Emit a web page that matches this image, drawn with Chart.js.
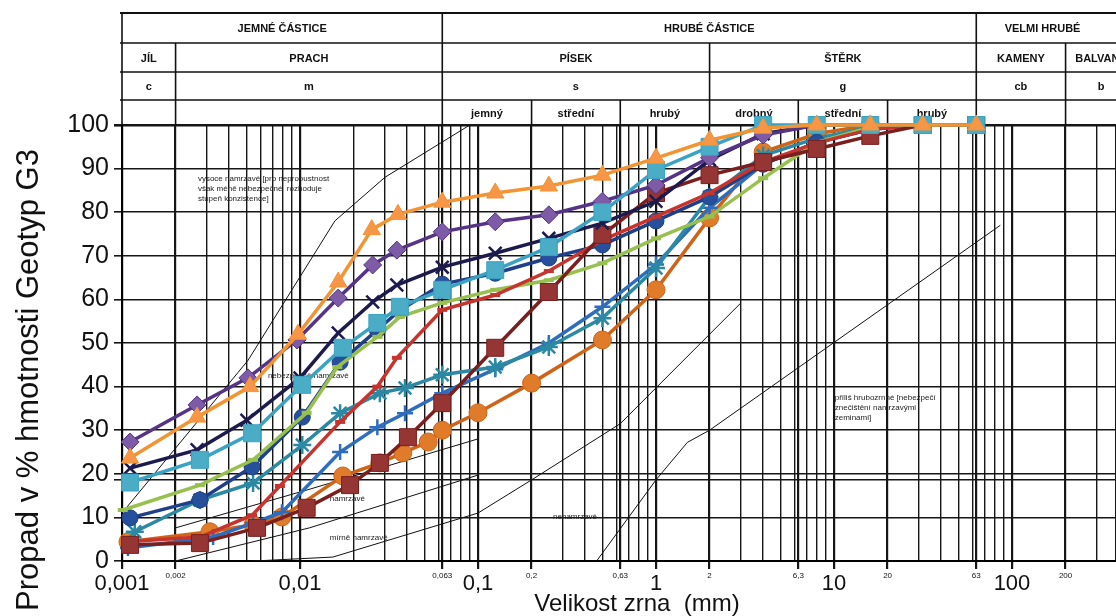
<!DOCTYPE html>
<html>
<head>
<meta charset="utf-8">
<script src="https://cdn.jsdelivr.net/npm/chart.js@4.4.0/dist/chart.umd.min.js"></script>
<style>
  html, body { margin: 0; padding: 0; background: #fff; }
  #wrap { width: 1116px; height: 616px; }
</style>
</head>
<body>
<div id="wrap"><canvas id="chart" width="1116" height="616"></canvas></div>
<script>
// grain size curves (mm -> % passing)
var orangeSizes = [0.00111, 0.00264, 0.00524, 0.00974, 0.0164, 0.0253, 0.0355, 0.063, 0.125, 0.25, 0.5, 1, 2, 4, 8, 16, 31.5, 63];
var orangeVals  = [23.6, 33, 40, 52, 64, 76, 79.5, 82.3, 84.4, 86, 88.5, 92.4, 96.5, 99.3, 100, 100, 100, 100];

var cyanSizes = [0.00111, 0.00274, 0.00538, 0.0103, 0.0174, 0.0272, 0.0364, 0.063, 0.125, 0.25, 0.5, 1, 2, 4, 8, 16, 31.5, 63];
var cyanVals  = [18, 23.2, 29.3, 40.4, 48.9, 54.6, 58.3, 62.2, 66.7, 72, 80, 89.7, 95, 100, 100, 100, 100, 100];

var purpleSizes = [0.00111, 0.00264, 0.0051, 0.00961, 0.0164, 0.0256, 0.035, 0.063, 0.125, 0.25, 0.5, 1, 2, 4, 8, 16, 31.5];
var purpleVals  = [27.3, 35.8, 42, 50.7, 60.3, 67.9, 71.3, 75.5, 77.8, 79.4, 82.5, 86.2, 92.5, 97.7, 100, 100, 100];

var navySizes = [0.00111, 0.00264, 0.00503, 0.0100, 0.0164, 0.0256, 0.035, 0.063, 0.125, 0.25, 0.5, 1, 2, 4, 8, 16, 31.5];
var navyVals  = [21.3, 25.5, 32.3, 42, 52.3, 59.4, 63.3, 67.4, 70.6, 74, 77.5, 82.5, 92, 98, 100, 100, 100];

var maroonSizes = [0.00111, 0.00274, 0.00574, 0.0109, 0.0191, 0.0281, 0.0404, 0.063, 0.125, 0.25, 0.5, 1, 2, 4, 8, 16, 31.5, 63];
var maroonVals  = [3.7, 4.1, 7.6, 12.2, 17.4, 22.5, 28.4, 36.2, 48.9, 61.7, 74.8, 84.4, 88.5, 91.5, 94.5, 97.5, 100, 100];

var redSizes = [0.00111, 0.00274, 0.00538, 0.00771, 0.0168, 0.0272, 0.035, 0.063, 0.125, 0.25, 0.5, 1, 2, 4, 8, 16, 31.5];
var redVals  = [4.5, 5.5, 10.5, 17.2, 31.9, 40, 46.6, 57.6, 61, 66.5, 73.6, 79, 84.4, 91.5, 95.9, 99, 100];

var greenSizes = [0.00101, 0.00274, 0.00545, 0.0109, 0.0162, 0.0272, 0.0364, 0.063, 0.125, 0.25, 0.5, 1, 2, 4, 8, 16, 31.5];
var greenVals  = [11.7, 17.4, 23.2, 34, 44.5, 51.4, 56, 59.2, 62.2, 64.4, 68.3, 74, 79, 87.8, 96, 99.5, 100];

var blueDotSizes = [0.00111, 0.00274, 0.00538, 0.0103, 0.0168, 0.0272, 0.0364, 0.063, 0.125, 0.25, 0.5, 1, 2, 4, 8, 16, 31.5];
var blueDotVals  = [9.9, 14, 21.6, 33, 45.6, 53, 57.5, 63.5, 66, 69.5, 72.5, 78, 83.5, 91, 96, 99, 100];

var tealSizes = [0.00118, 0.00274, 0.00545, 0.0103, 0.0168, 0.0281, 0.0389, 0.063, 0.125, 0.25, 0.5, 1, 2, 4, 8, 16, 31.5];
var tealVals  = [6.7, 14, 17.9, 26.6, 33.9, 38.5, 39.7, 42.7, 44.5, 49.1, 55.7, 67.2, 83.5, 93, 97, 99.5, 100];

var bluePlusSizes = [0.00108, 0.00325, 0.00545, 0.00792, 0.0168, 0.0272, 0.0389, 0.063, 0.125, 0.25, 0.5, 1, 2, 4, 8, 16, 31.5];
var bluePlusVals  = [3, 5.5, 8.7, 11.2, 25, 30.7, 33.9, 38.5, 44, 50, 58.3, 68, 81, 91, 96, 99, 100];

var brownSizes = [0.00108, 0.00312, 0.00545, 0.00792, 0.0174, 0.0281, 0.0378, 0.0525, 0.063, 0.1, 0.2, 0.5, 1, 2, 4, 8, 16];
var brownVals  = [4.4, 6.7, 8.3, 10.1, 19.5, 22.5, 24.8, 27.3, 30, 34, 40.8, 50.7, 62.2, 78.7, 93.8, 98, 100];

// frost susceptibility boundary lines [mm, %]
var lineA = [[0.001, 11], [0.0051, 46], [0.0157, 78], [0.03, 88], [0.09, 100]];
var lineB = [[0.002, 7.6], [0.0114, 16.5], [0.1, 28]];
var lineD = [[0.002, 0], [0.0113, 7.6], [0.1, 19.7]];
var lineC = [[0.0055, 0], [0.0153, 0.9], [0.1, 11], [0.2, 18.6], [0.63, 31.5], [3, 59.2]];
var lineE = [[0.464, 0], [1, 18.6], [1.5, 27.2], [2, 30], [86, 77]];

// axis ticks
var xMin = 0.001, xMax = 384;
var xMajorTicks  = [0.001, 0.01, 0.1, 1, 10, 100];
var xMajorLabels = ['0,001', '0,01', '0,1', '1', '10', '100'];
var xMinorTicks  = [0.002, 0.063, 0.2, 0.63, 2, 6.3, 20, 63, 200];
var xMinorLabels = ['0,002', '0,063', '0,2', '0,63', '2', '6,3', '20', '63', '200'];
var xExtraGrid   = [0.063, 0.63, 6.3, 63];
var yTicks       = [0, 10, 20, 30, 40, 50, 60, 70, 80, 90, 100];
var yExtraGrid   = [18.6];

// header table: [text, from mm, to mm]
var headRow1 = [['JEMNÉ ČÁSTICE', 0.001, 0.063], ['HRUBÉ ČÁSTICE', 0.063, 63], ['VELMI HRUBÉ', 63, 350]];
var headRow2 = [['JÍL', 0.001, 0.002], ['PRACH', 0.002, 0.063], ['PÍSEK', 0.063, 2], ['ŠTĚRK', 2, 63], ['KAMENY', 63, 200], ['BALVANY', 200, 500]];
var headRow3 = [['c', 0.001, 0.002], ['m', 0.002, 0.063], ['s', 0.063, 2], ['g', 2, 63], ['cb', 63, 200], ['b', 200, 500]];
var headRow4 = [['', 0.001, 0.002], ['', 0.002, 0.063], ['jemný', 0.063, 0.2], ['střední', 0.2, 0.63], ['hrubý', 0.63, 2],
                ['drobný', 2, 6.3], ['střední', 6.3, 20], ['hrubý', 20, 63], ['', 63, 200], ['', 200, 500]];

// zone notes: [lines, mm, %]
var zoneNotes = [
  [['vysoce namrzavé [pro nepropustnost', 'však méně nebezpečné  rozhoduje', 'stupeň konzistence]'], 0.00267, 87.6],
  [['nebezpečně namrzavé'], 0.0066, 42.4],
  [['namrzavé'], 0.0147, 14.2],
  [['mírně namrzavé'], 0.0147, 5.3],
  [['nenamrzavé'], 0.264, 10.1],
  [['příliš hrubozrnné [nebezpečí', 'znečištění namrzavými', 'zeminami]'], 10.1, 37.4]
];

var FONT = "'Liberation Sans', Arial, sans-serif";

function pts(sizes, vals) {
  return sizes.map(function(s, i){ return {x: s, y: vals[i]}; });
}
function pairs(arr) {
  return arr.map(function(p){ return {x: p[0], y: p[1]}; });
}
function roundVal(v) { return parseFloat(v.toPrecision(6)); }

function curve(label, sizes, vals, color, fill, style, radius, extra) {
  var ds = {
    label: label,
    data: pts(sizes, vals),
    borderColor: color,
    backgroundColor: fill,
    borderWidth: 3.5,
    pointStyle: style,
    pointRadius: radius,
    pointBackgroundColor: fill,
    pointBorderColor: color,
    pointBorderWidth: 1,
    clip: false
  };
  return Object.assign(ds, extra || {});
}
function boundary(arr) {
  return {
    data: pairs(arr), borderColor: '#111', borderWidth: 1, pointRadius: 0, fill: false
  };
}

var gridValues = [];
for (var k = -3; k <= 2; k++) {
  for (var m = 1; m <= 9; m++) gridValues.push(roundVal(m * Math.pow(10, k)));
}
xExtraGrid.forEach(function(v){ gridValues.push(v); });
gridValues = gridValues.filter(function(v){ return v <= xMax; });
gridValues.push(xMax);
gridValues.sort(function(a, b){ return a - b; });

var heavyX = [0.001, 0.002, 0.01, 0.063, 0.1, 0.2, 0.63, 1, 2, 6.3, 10, 20, 63, 100, 200];

var paper = {
  id: 'paper',
  beforeDraw: function(chart) {
    var ctx = chart.ctx;
    ctx.save();
    ctx.fillStyle = '#fff';
    ctx.fillRect(0, 0, chart.width, chart.height);
    ctx.restore();
  },
  beforeDatasetsDraw: function(chart) {
    var ctx = chart.ctx, area = chart.chartArea, x = chart.scales.x, y = chart.scales.y;
    var px = function(v){ return x.getPixelForValue(v); };
    var edges = [13, 43, 72, 100, area.top];
    var rows = [headRow1, headRow2, headRow3, headRow4];
    ctx.save();
    ctx.strokeStyle = '#111';
    ctx.lineWidth = 1.6;
    ctx.fillStyle = '#111';
    ctx.textAlign = 'center';
    ctx.textBaseline = 'middle';
    ctx.font = 'bold 11px ' + FONT;
    rows.forEach(function(row, r) {
      var y0 = edges[r], y1 = edges[r + 1];
      row.forEach(function(cell) {
        var x0 = px(cell[1]), x1 = px(cell[2]);
        ctx.beginPath(); ctx.moveTo(x0, y0); ctx.lineTo(x0, y1); ctx.stroke();
        if (cell[0]) ctx.fillText(cell[0], (x0 + x1) / 2, (y0 + y1) / 2 + 1);
      });
    });
    [13, 43, 72, 100].forEach(function(yy, i) {
      ctx.lineWidth = i === 0 ? 2 : 1.6;
      ctx.beginPath(); ctx.moveTo(px(0.001) - 2, yy); ctx.lineTo(chart.width, yy); ctx.stroke();
    });

    // zone notes
    ctx.font = '8px ' + FONT;
    ctx.textAlign = 'left';
    ctx.fillStyle = '#222';
    zoneNotes.forEach(function(n) {
      var x0 = px(n[1]), y0 = y.getPixelForValue(n[2]);
      n[0].forEach(function(t, i){ ctx.fillText(t, x0, y0 + i * 10); });
    });
    ctx.restore();
  },
  afterDraw: function(chart) {
    var ctx = chart.ctx;
    ctx.save();
    ctx.fillStyle = '#111';
    ctx.font = '24px ' + FONT;
    ctx.textAlign = 'center';
    ctx.textBaseline = 'middle';
    ctx.fillText('Velikost zrna  (mm)', 637, 604);
    ctx.translate(38, 380);
    ctx.rotate(-Math.PI / 2);
    ctx.font = '31px ' + FONT;
    ctx.textBaseline = 'alphabetic';
    ctx.fillText('Propad v % hmotnosti Geotyp G3', 0, 0);
    ctx.restore();
  }
};

var datasets = [
  curve('orange', orangeSizes, orangeVals, '#F39433', '#F79646', 'triangle', 10),
  curve('cyan', cyanSizes, cyanVals, '#3AA3C4', '#4BACC6', 'rect', 12),
  curve('purple', purpleSizes, purpleVals, '#553386', '#7D5BA6', 'rectRot', 9),
  curve('navy', navySizes, navyVals, '#1D1A4E', '#1D1A4E', 'crossRot', 9, {pointBorderWidth: 2.5}),
  curve('maroon', maroonSizes, maroonVals, '#7A1E1E', '#963634', 'rect', 12),
  curve('red', redSizes, redVals, '#C7342E', '#C7342E', 'line', 5, {pointBorderWidth: 4}),
  curve('green', greenSizes, greenVals, '#98C04F', '#98C04F', 'line', 5, {pointBorderWidth: 4}),
  curve('blueDot', blueDotSizes, blueDotVals, '#1F3F88', '#27509C', 'circle', 8),
  curve('teal', tealSizes, tealVals, '#2C89A4', '#2C89A4', 'star', 9, {pointBorderWidth: 2.5}),
  curve('bluePlus', bluePlusSizes, bluePlusVals, '#2E6DBD', '#2E6DBD', 'cross', 8, {pointBorderWidth: 2.5}),
  curve('brown', brownSizes, brownVals, '#CF6418', '#E07B2A', 'circle', 9),
  boundary(lineA), boundary(lineB), boundary(lineD), boundary(lineC), boundary(lineE)
];

new Chart(document.getElementById('chart'), {
  type: 'line',
  data: { datasets: datasets },
  plugins: [paper],
  options: {
    responsive: false,
    animation: false,
    layout: { autoPadding: false, padding: { top: 125, left: 0, right: 0, bottom: 0 } },
    plugins: { legend: { display: false }, tooltip: { enabled: false } },
    elements: { line: { tension: 0 } },
    scales: {
      x: {
        type: 'logarithmic',
        min: xMin,
        max: xMax,
        afterFit: function(s){ s.height = 55; s.paddingRight = 0; },
        afterBuildTicks: function(s){
          s.ticks = gridValues.map(function(v){ return {value: v}; });
        },
        border: { color: '#000', width: 2 },
        grid: {
          color: '#161616',
          lineWidth: function(c){ return heavyX.indexOf(c.tick.value) >= 0 ? 2.2 : 1.4; },
          tickLength: 8,
          tickColor: function(c){
            var v = c.tick.value;
            return (xMajorTicks.indexOf(v) >= 0 || xMinorTicks.indexOf(v) >= 0) ? '#161616' : 'rgba(0,0,0,0)';
          }
        },
        ticks: {
          autoSkip: false,
          maxRotation: 0,
          minRotation: 0,
          padding: 2,
          color: '#111',
          font: function(c){
            var big = c.tick && xMajorTicks.indexOf(c.tick.value) >= 0;
            return { family: FONT, size: big ? 22 : 8 };
          },
          callback: function(v){
            var i = xMajorTicks.indexOf(v);
            if (i >= 0) return xMajorLabels[i];
            i = xMinorTicks.indexOf(v);
            return i >= 0 ? xMinorLabels[i] : '';
          }
        }
      },
      y: {
        type: 'linear',
        min: 0,
        max: 100,
        afterFit: function(s){ s.width = 122; },
        afterBuildTicks: function(s){
          s.ticks = yTicks.concat(yExtraGrid).sort(function(a, b){ return a - b; })
            .map(function(v){ return {value: v}; });
        },
        border: { color: '#000', width: 2 },
        grid: {
          color: '#161616',
          lineWidth: function(c){ return c.tick.value === 100 ? 2.6 : 1.6; },
          tickLength: 8
        },
        ticks: {
          color: '#111',
          padding: 5,
          font: { family: FONT, size: 25 },
          callback: function(v){ return yTicks.indexOf(v) >= 0 ? String(v) : ''; }
        }
      }
    }
  }
});
</script>
</body>
</html>
